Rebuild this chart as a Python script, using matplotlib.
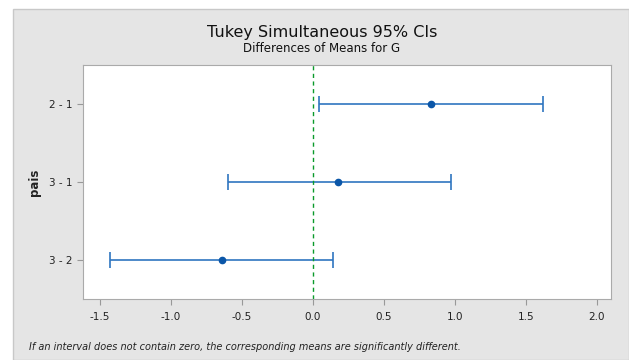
import matplotlib.pyplot as plt
from matplotlib.patches import Rectangle

# Tukey intervals
pairs = ["2 - 1", "3 - 1", "3 - 2"]
centers = [0.83, 0.18, -0.64]
lower = [0.046, -0.60, -1.43]
upper = [1.62, 0.97, 0.14]
xticks = [-1.5, -1.0, -0.5, 0.0, 0.5, 1.0, 1.5, 2.0]

fig = plt.figure(figsize=(6.29, 3.6), dpi=100)
fig.patch.set_facecolor("white")

# grey panel behind the chart
W, H = 629, 360
fig.patches.append(Rectangle((13 / W, 0), 1 - 13 / W, 1 - 9 / H, transform=fig.transFigure,
                             facecolor="#e5e5e5", edgecolor="#c8c8c8", linewidth=1, zorder=-10))

ax = fig.add_axes([83 / W, 1 - 299 / H, (611 - 83) / W, (299 - 65) / H])
ax.set_zorder(1)
ax.set_facecolor("white")

ypos = list(range(len(pairs)))
err_lo = [c - l for c, l in zip(centers, lower)]
err_hi = [u - c for c, u in zip(centers, upper)]
ax.errorbar(centers, ypos, xerr=[err_lo, err_hi], fmt="o", color="#1f67b8",
            ecolor="#2f75c0", elinewidth=1.2, capsize=6, capthick=1.2,
            markersize=4.5, markerfacecolor="#0b56a8", markeredgecolor="#0b56a8")
ax.axvline(0, color="#0a9a2a", linestyle=(0, (3, 2.5)), linewidth=1)

ax.set_xlim(-1.62, 2.10)
ax.set_ylim(len(pairs) - 0.5, -0.5)
ax.set_xticks(xticks)
ax.set_xticklabels([f"{t:.1f}" for t in xticks])
ax.set_yticks(ypos)
ax.set_yticklabels(pairs)
ax.tick_params(axis="both", colors="#999999", labelcolor="#222222", labelsize=7.5,
               length=4, width=0.8)
ax.tick_params(axis="x", pad=5)
for s in ax.spines.values():
    s.set_color("#aaaaaa")
    s.set_linewidth(0.8)
ax.set_ylabel("pais", fontsize=8.5, fontweight="bold", color="#222222", labelpad=6)

fig.text(322 / W, 1 - 32 / H, "Tukey Simultaneous 95% CIs", ha="center", va="center",
         fontsize=11.5, color="#111111")
fig.text(322 / W, 1 - 48 / H, "Differences of Means for G", ha="center", va="center",
         fontsize=8.5, color="#111111")
fig.text(29 / W, 1 - 347 / H,
         "If an interval does not contain zero, the corresponding means are significantly different.",
         ha="left", va="center", fontsize=7, style="italic", color="#222222")

fig.savefig("out.png", dpi=100, facecolor=fig.get_facecolor())
